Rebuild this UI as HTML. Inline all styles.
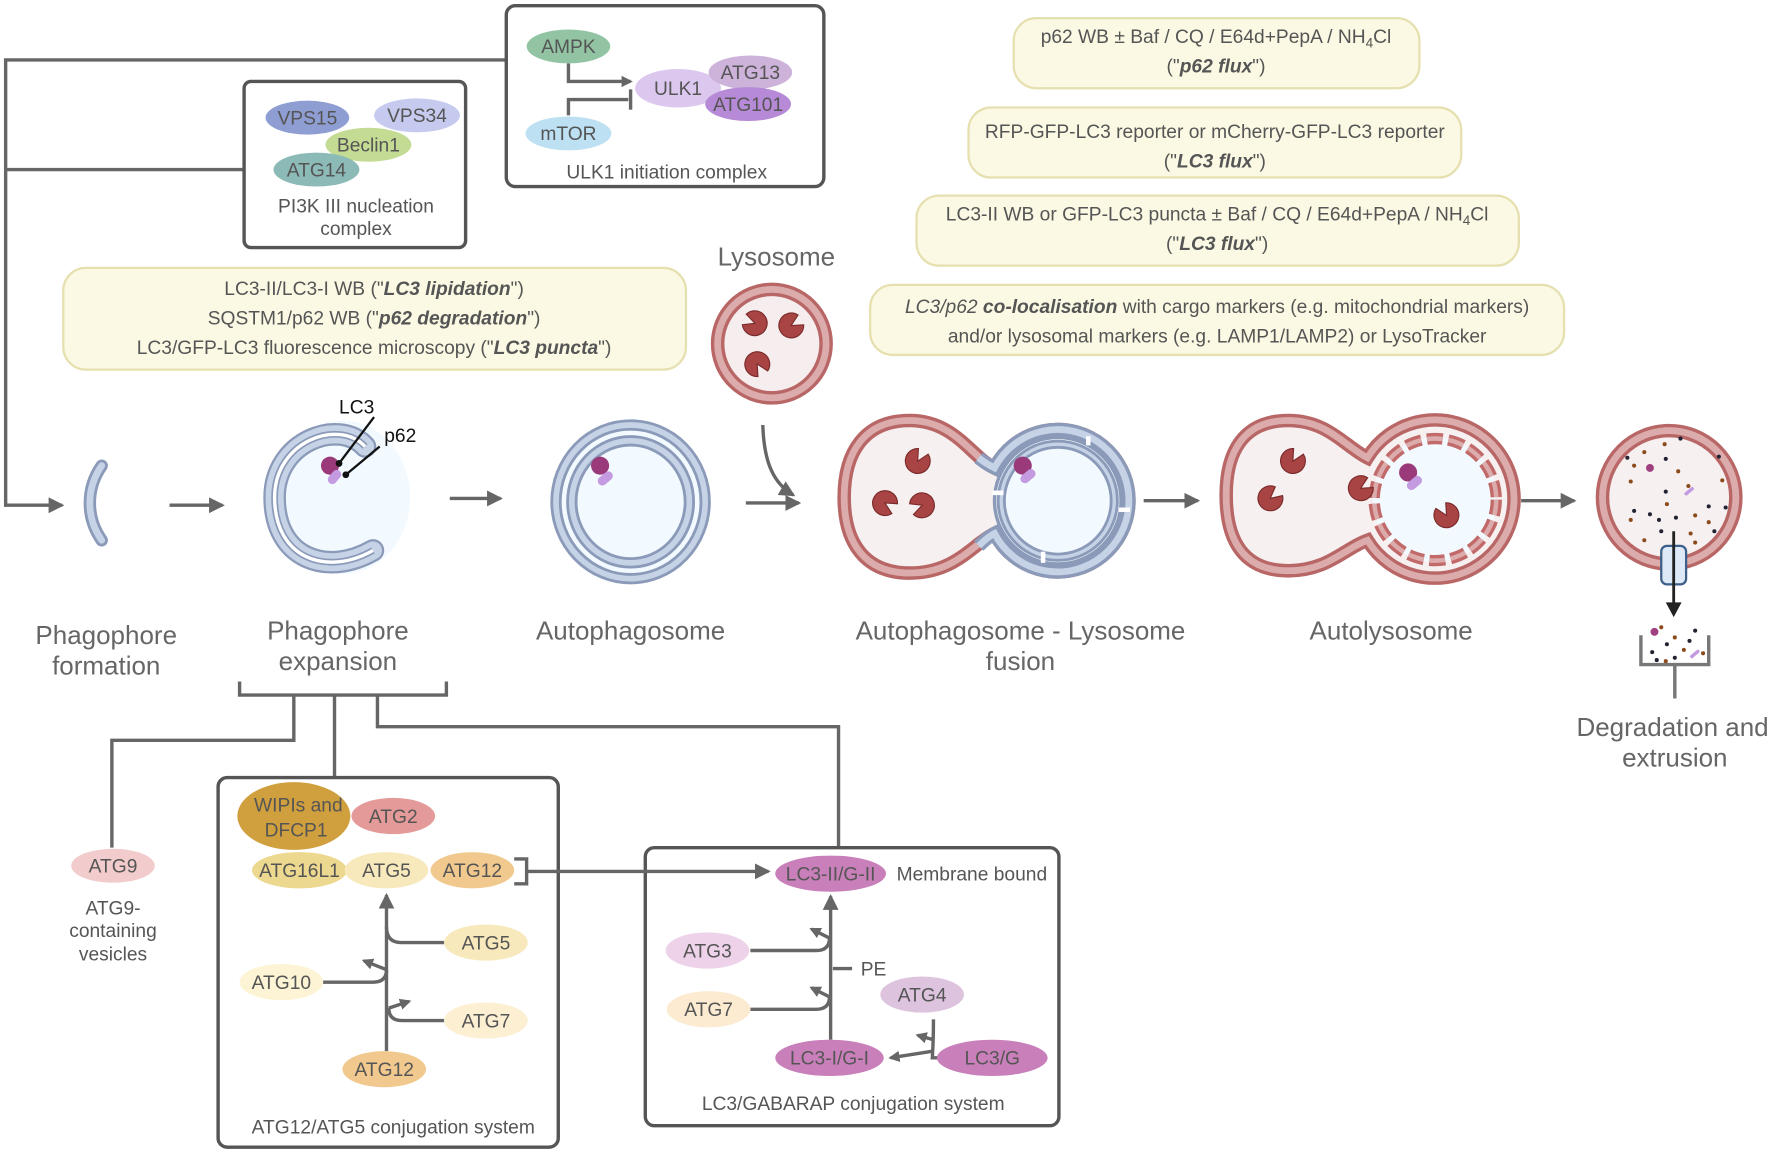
<!DOCTYPE html>
<html><head><meta charset="utf-8"><style>
html,body{margin:0;padding:0;background:#fff;}
svg{display:block;}
text{font-family:"Liberation Sans",sans-serif;fill:#555;}
.s{font-size:17px;text-anchor:middle;}
.b{font-size:23px;text-anchor:middle;fill:#666;}
.ln{stroke:#666;stroke-width:3;fill:none;}
.fr{stroke:#555;stroke-width:3;fill:#fff;}
.yb{fill:#fbf9e3;stroke:#e6e0b0;stroke-width:2;}
</style></head><body>
<svg width="1772" height="1154" viewBox="0 0 1568 1021" xmlns="http://www.w3.org/2000/svg">
<defs>
<marker id="ah" markerWidth="10" markerHeight="10" refX="8" refY="5" orient="auto" markerUnits="userSpaceOnUse"><path d="M0,0 L10,5 L0,10 Z" fill="#666"/></marker>
<marker id="ahs" markerWidth="14" markerHeight="14" refX="12" refY="7" orient="auto" markerUnits="userSpaceOnUse"><path d="M0,0 L14,7 L0,14 Z" fill="#666"/></marker>
<path id="pac" d="M0,0 L10,-5 A11 11 0 1 0 10,5 Z" fill="#a84444" stroke="#7a2a2a" stroke-width="1"/>
</defs>

<path class="ln" d="M448,53 H5 V447 H55" marker-end="url(#ahs)"/>
<path class="ln" d="M216,150 H5"/>

<rect class="fr" x="448" y="5" width="281" height="160" rx="8"/>
<path class="ln" d="M503,56 V72 H558" marker-end="url(#ah)"/>
<path class="ln" d="M503,102 V88 H556"/><path class="ln" d="M558,79 V97"/>
<ellipse cx="503" cy="41" rx="37" ry="15" fill="#92c4a4"/><text class="s" x="503" y="47">AMPK</text>
<ellipse cx="503" cy="118" rx="38" ry="15" fill="#bde0f2"/><text class="s" x="503" y="124">mTOR</text>
<ellipse cx="600" cy="78" rx="38" ry="17" fill="#dcc8ef"/><text class="s" x="600" y="84">ULK1</text>
<ellipse cx="664" cy="64" rx="37" ry="15" fill="#cdb3da"/><text class="s" x="664" y="70">ATG13</text>
<ellipse cx="662" cy="92" rx="38" ry="15" fill="#b68ad6"/><text class="s" x="662" y="98">ATG101</text>
<text class="s" x="590" y="158">ULK1 initiation complex</text>

<rect class="fr" x="216" y="72" width="196" height="147" rx="6"/>
<ellipse cx="369" cy="102" rx="38" ry="15" fill="#c6caee"/><text class="s" x="369" y="108">VPS34</text>
<ellipse cx="272" cy="104" rx="37" ry="15" fill="#8e9dd2"/><text class="s" x="272" y="110">VPS15</text>
<ellipse cx="326" cy="128" rx="38" ry="15" fill="#c4db94"/><text class="s" x="326" y="134">Beclin1</text>
<ellipse cx="280" cy="150" rx="38" ry="15" fill="#8cbab6"/><text class="s" x="280" y="156">ATG14</text>
<text class="s" x="315" y="188">PI3K III nucleation</text>
<text class="s" x="315" y="208">complex</text>

<rect class="yb" x="56" y="237" width="551" height="90" rx="20"/>
<text class="s" x="331" y="261">LC3-II/LC3-I WB ("<tspan font-weight="bold" font-style="italic">LC3 lipidation</tspan>")</text>
<text class="s" x="331" y="287">SQSTM1/p62 WB ("<tspan font-weight="bold" font-style="italic">p62 degradation</tspan>")</text>
<text class="s" x="331" y="313">LC3/GFP-LC3 fluorescence microscopy ("<tspan font-weight="bold" font-style="italic">LC3 puncta</tspan>")</text>

<rect class="yb" x="897" y="16" width="359" height="62" rx="20"/>
<text class="s" x="1076" y="38">p62 WB  ± Baf / CQ / E64d+PepA / NH<tspan font-size="12" dy="4">4</tspan><tspan dy="-4">Cl</tspan></text>
<text class="s" x="1076" y="64">("<tspan font-weight="bold" font-style="italic">p62 flux</tspan>")</text>
<rect class="yb" x="857" y="95" width="436" height="62" rx="20"/>
<text class="s" x="1075" y="122">RFP-GFP-LC3 reporter or mCherry-GFP-LC3 reporter</text>
<text class="s" x="1075" y="148">("<tspan font-weight="bold" font-style="italic">LC3 flux</tspan>")</text>
<rect class="yb" x="811" y="173" width="533" height="62" rx="20"/>
<text class="s" x="1077" y="195">LC3-II WB or GFP-LC3 puncta ± Baf / CQ / E64d+PepA / NH<tspan font-size="12" dy="4">4</tspan><tspan dy="-4">Cl</tspan></text>
<text class="s" x="1077" y="221">("<tspan font-weight="bold" font-style="italic">LC3 flux</tspan>")</text>
<rect class="yb" x="770" y="252" width="614" height="62" rx="20"/>
<text class="s" x="1077" y="277"><tspan font-style="italic">LC3/p62 <tspan font-weight="bold">co-localisation</tspan></tspan> with cargo markers (e.g. mitochondrial markers)</text>
<text class="s" x="1077" y="303">and/or lysosomal markers (e.g. LAMP1/LAMP2) or LysoTracker</text>

<text class="b" x="687" y="235">Lysosome</text>
<circle cx="683" cy="304" r="48" fill="#f6eeee" stroke="#b86666" stroke-width="12"/>
<circle cx="683" cy="304" r="48" fill="none" stroke="#dcacac" stroke-width="6"/>
<use href="#pac" transform="translate(668,286) rotate(200)"/>
<use href="#pac" transform="translate(700,288) rotate(-30)"/>
<use href="#pac" transform="translate(670,322) rotate(60)"/>
<path class="ln" d="M675,376 C676,410 685,428 702,438" marker-end="url(#ahs)"/>

<path class="ln" d="M150,447 H197" marker-end="url(#ahs)"/>
<path class="ln" d="M398,441 H443" marker-end="url(#ahs)"/>
<path class="ln" d="M660,445 H707" marker-end="url(#ahs)"/>
<path class="ln" d="M1012,443 H1060" marker-end="url(#ahs)"/>
<path class="ln" d="M1346,443 H1393" marker-end="url(#ahs)"/>

<path d="M90,412 C76,432 76,458 90,478" fill="none" stroke="#8a9ab8" stroke-width="11" stroke-linecap="round"/>
<path d="M90,412 C76,432 76,458 90,478" fill="none" stroke="#c6d2e6" stroke-width="6" stroke-linecap="round"/>

<ellipse cx="303" cy="440" rx="60" ry="68" fill="#f2faff"/>
<path d="M323,395 C300,370 243,390 243,440 C243,495 290,510 330,487" fill="none" stroke="#8a9ab8" stroke-width="20" stroke-linecap="round"/>
<path d="M323,395 C300,370 243,390 243,440 C243,495 290,510 330,487" fill="none" stroke="#c6d2e6" stroke-width="16" stroke-linecap="round"/>
<path d="M323,395 C300,370 243,390 243,440 C243,495 290,510 330,487" fill="none" stroke="#8a9ab8" stroke-width="6"/>
<path d="M323,395 C300,370 243,390 243,440 C243,495 290,510 330,487" fill="none" stroke="#fff" stroke-width="3"/>
<circle cx="292" cy="412" r="8" fill="#9a3a7a"/>
<rect x="292" y="415" width="8" height="14" rx="4" fill="#c49ae0" transform="rotate(40 296 422)"/>
<path d="M331,369 L300,410" stroke="#111" stroke-width="2"/><circle cx="300" cy="410" r="3" fill="#111"/>
<path d="M336,395 L306,420" stroke="#111" stroke-width="2"/><circle cx="306" cy="420" r="3" fill="#111"/>
<text x="300" y="366" font-size="17" style="fill:#111">LC3</text>
<text x="340" y="391" font-size="17" style="fill:#111">p62</text>

<ellipse cx="558" cy="444" rx="66" ry="68" fill="#f2faff" stroke="#8a9ab8" stroke-width="10"/>
<ellipse cx="558" cy="444" rx="66" ry="68" fill="none" stroke="#c6d2e6" stroke-width="5"/>
<ellipse cx="558" cy="444" rx="52" ry="54" fill="none" stroke="#8a9ab8" stroke-width="10"/>
<ellipse cx="558" cy="444" rx="52" ry="54" fill="none" stroke="#c6d2e6" stroke-width="5"/>
<circle cx="531" cy="412" r="8" fill="#9a3a7a"/>
<rect x="532" y="416" width="8" height="15" rx="4" fill="#c49ae0" transform="rotate(50 536 423)"/>

<path d="M880,414 C860,405 845,372 805,372 C765,372 747,400 747,440 C747,480 765,507 805,507 C845,507 860,482 880,472 A63 63 0 1 0 880,414 Z" fill="#f6f0f0" stroke="#b86666" stroke-width="12"/>
<path d="M880,414 C860,405 845,372 805,372 C765,372 747,400 747,440 C747,480 765,507 805,507 C845,507 860,482 880,472 A63 63 0 1 0 880,414 Z" fill="none" stroke="#dcacac" stroke-width="6"/>
<path d="M866,405 C872,410 876,412 880,414 A63 63 0 1 1 880,472 C876,474 872,477 866,483" fill="none" stroke="#8a9ab8" stroke-width="12"/>
<path d="M866,405 C872,410 876,412 880,414 A63 63 0 1 1 880,472 C876,474 872,477 866,483" fill="none" stroke="#c6d2e6" stroke-width="6"/>
<circle cx="936" cy="443" r="56" fill="#f2faff" stroke="#8a9ab8" stroke-width="3"/>
<circle cx="936" cy="443" r="50" fill="none" stroke="#8a9ab8" stroke-width="8"/>
<circle cx="936" cy="443" r="50" fill="none" stroke="#c6d2e6" stroke-width="3"/>
<path d="M878,436 h10 M963,386 v8 M990,451 h10 M923,488 v10" stroke="#fff" stroke-width="4"/>
<circle cx="905" cy="412" r="8" fill="#9a3a7a"/>
<rect x="906" y="414" width="8" height="15" rx="4" fill="#c49ae0" transform="rotate(50 910 421)"/>
<use href="#pac" transform="translate(812,408) rotate(-60)"/>
<use href="#pac" transform="translate(783,445) rotate(30)"/>
<use href="#pac" transform="translate(816,447) rotate(160)"/>

<path d="M1210,405 C1190,395 1175,372 1140,372 C1100,372 1085,400 1085,438 C1085,478 1100,505 1140,505 C1175,505 1190,485 1210,478 A70 70 0 1 0 1210,405 Z" fill="#f6f0f0" stroke="#b86666" stroke-width="12"/>
<path d="M1210,405 C1190,395 1175,372 1140,372 C1100,372 1085,400 1085,438 C1085,478 1100,505 1140,505 C1175,505 1190,485 1210,478 A70 70 0 1 0 1210,405 Z" fill="none" stroke="#dcacac" stroke-width="6"/>
<circle cx="1270" cy="442" r="55" fill="#f2faff"/>
<circle cx="1270" cy="442" r="54" fill="none" stroke="#c26a6a" stroke-width="10" stroke-dasharray="14 5"/>
<circle cx="1270" cy="442" r="54" fill="none" stroke="#dcacac" stroke-width="4" stroke-dasharray="14 5"/>
<circle cx="1246" cy="418" r="8" fill="#9a3a7a"/>
<rect x="1248" y="420" width="8" height="15" rx="4" fill="#c49ae0" transform="rotate(50 1252 427)"/>
<use href="#pac" transform="translate(1144,408) rotate(-60)"/>
<use href="#pac" transform="translate(1124,441) rotate(-40)"/>
<use href="#pac" transform="translate(1204,432) rotate(-30)"/>
<use href="#pac" transform="translate(1280,456) rotate(-120)"/>

<circle cx="1477" cy="440" r="59" fill="#f6f0f0" stroke="#b86666" stroke-width="12"/>
<circle cx="1477" cy="440" r="59" fill="none" stroke="#dcacac" stroke-width="6"/>
<g fill="#8a4a1a">
<circle cx="1455" cy="400" r="1.8"/><circle cx="1473" cy="393" r="1.8"/><circle cx="1485" cy="417" r="1.8"/><circle cx="1443" cy="426" r="1.8"/><circle cx="1494" cy="430" r="1.8"/><circle cx="1524" cy="425" r="1.8"/><circle cx="1443" cy="460" r="1.8"/><circle cx="1475" cy="446" r="1.8"/><circle cx="1500" cy="456" r="1.8"/><circle cx="1512" cy="462" r="1.8"/><circle cx="1455" cy="478" r="1.8"/><circle cx="1496" cy="472" r="1.8"/><circle cx="1446" cy="412" r="1.8"/><circle cx="1500" cy="480" r="1.8"/>
</g>
<g fill="#223">
<circle cx="1487" cy="388" r="1.8"/><circle cx="1440" cy="405" r="1.8"/><circle cx="1474" cy="406" r="1.8"/><circle cx="1474" cy="435" r="1.8"/><circle cx="1446" cy="452" r="1.8"/><circle cx="1460" cy="455" r="1.8"/><circle cx="1468" cy="460" r="1.8"/><circle cx="1512" cy="448" r="1.8"/><circle cx="1527" cy="449" r="1.8"/><circle cx="1521" cy="404" r="1.8"/><circle cx="1470" cy="470" r="1.8"/><circle cx="1517" cy="470" r="1.8"/><circle cx="1483" cy="458" r="1.8"/>
</g>
<circle cx="1460" cy="414" r="3.5" fill="#a04080"/>
<rect x="1493" y="430" width="3" height="10" rx="1.5" fill="#c49ae0" transform="rotate(50 1495 435)"/>
<rect x="1470" y="483" width="22" height="34" rx="5" fill="#dde9f6" stroke="#3d5f8a" stroke-width="2"/>
<path d="M1481,470 V535" stroke="#222" stroke-width="2.5"/>
<path d="M1474,533 L1488,533 L1481,546 Z" fill="#222"/>
<path d="M1452,562 V588 H1512 V562 M1482,588 V618" stroke="#777" stroke-width="3" fill="none"/>
<g fill="#223"><circle cx="1462" cy="577" r="1.8"/><circle cx="1475" cy="570" r="1.8"/><circle cx="1495" cy="567" r="1.8"/><circle cx="1500" cy="558" r="1.8"/><circle cx="1482" cy="582" r="1.8"/><circle cx="1466" cy="584" r="1.8"/></g>
<g fill="#8a4a1a"><circle cx="1482" cy="564" r="1.8"/><circle cx="1490" cy="575" r="1.8"/><circle cx="1474" cy="585" r="1.8"/><circle cx="1507" cy="578" r="1.8"/><circle cx="1470" cy="555" r="1.8"/></g>
<circle cx="1464" cy="559" r="3.5" fill="#a04080"/>
<rect x="1498" y="574" width="3" height="10" rx="1.5" fill="#c49ae0" transform="rotate(50 1500 579)"/>

<text class="b" x="94" y="570">Phagophore</text><text class="b" x="94" y="597">formation</text>
<text class="b" x="299" y="566">Phagophore</text><text class="b" x="299" y="593">expansion</text>
<text class="b" x="558" y="566">Autophagosome</text>
<text class="b" x="903" y="566">Autophagosome - Lysosome</text><text class="b" x="903" y="593">fusion</text>
<text class="b" x="1231" y="566">Autolysosome</text>
<text class="b" x="1480" y="651">Degradation and</text><text class="b" x="1482" y="678">extrusion</text>

<path class="ln" d="M212,603 V615 H395 V603"/>
<path class="ln" d="M260,615 V655 H99 V750"/>
<path class="ln" d="M296,615 V688"/>
<path class="ln" d="M334,615 V643 H742 V750"/>
<ellipse cx="100" cy="766" rx="37" ry="15" fill="#f2cccc"/><text class="s" x="100" y="772">ATG9</text>
<text class="s" x="100" y="809">ATG9-</text><text class="s" x="100" y="829">containing</text><text class="s" x="100" y="850">vesicles</text>

<rect class="fr" x="193" y="688" width="301" height="327" rx="8"/>
<path class="ln" d="M342,930 V792" marker-end="url(#ahs)"/>
<path class="ln" d="M393,834 H355 Q342,834 342,820"/>
<path class="ln" d="M283,869 H330 Q342,869 342,858"/><path class="ln" d="M342,858 L322,850" marker-end="url(#ah)"/>
<path class="ln" d="M393,903 H356 Q344,903 344,892"/><path class="ln" d="M344,892 L362,886" marker-end="url(#ah)"/>
<ellipse cx="260" cy="722" rx="50" ry="30" fill="#d1a03e"/><text class="s" x="264" y="718">WIPIs and</text><text class="s" x="262" y="740">DFCP1</text>
<ellipse cx="348" cy="722" rx="37" ry="16" fill="#e39a98"/><text class="s" x="348" y="728">ATG2</text>
<ellipse cx="265" cy="770" rx="42" ry="16" fill="#ecd88e"/><text class="s" x="265" y="776">ATG16L1</text>
<ellipse cx="342" cy="770" rx="37" ry="16" fill="#f8e9bc"/><text class="s" x="342" y="776">ATG5</text>
<ellipse cx="418" cy="770" rx="37" ry="16" fill="#f1c98e"/><text class="s" x="418" y="776">ATG12</text>
<ellipse cx="430" cy="834" rx="37" ry="16" fill="#f8e9bc"/><text class="s" x="430" y="840">ATG5</text>
<ellipse cx="249" cy="869" rx="37" ry="16" fill="#fcf4d4"/><text class="s" x="249" y="875">ATG10</text>
<ellipse cx="430" cy="903" rx="37" ry="16" fill="#fcefd2"/><text class="s" x="430" y="909">ATG7</text>
<ellipse cx="340" cy="946" rx="37" ry="16" fill="#f1c98e"/><text class="s" x="340" y="952">ATG12</text>
<text class="s" x="348" y="1003">ATG12/ATG5 conjugation system</text>
<path class="ln" d="M455,760 H466 V782 H455"/>

<rect class="fr" x="571" y="750" width="366" height="246" rx="8"/>
<path class="ln" d="M466,771 H680" marker-end="url(#ahs)"/>
<path class="ln" d="M735,920 V793" marker-end="url(#ahs)"/>
<path class="ln" d="M664,841 H722 Q734,841 734,830"/><path class="ln" d="M734,830 L718,822" marker-end="url(#ah)"/>
<path class="ln" d="M664,893 H722 Q734,893 734,882"/><path class="ln" d="M734,882 L718,874" marker-end="url(#ah)"/>
<path class="ln" d="M754,857 H737"/>
<text class="s" x="773" y="863">PE</text>
<path class="ln" d="M840,936 H825 Q826,920 826,902"/>
<path class="ln" d="M826,920 L812,916" marker-end="url(#ah)"/>
<path class="ln" d="M826,930 L788,936" marker-end="url(#ah)"/>
<ellipse cx="735" cy="773" rx="49" ry="16" fill="#c97fb9"/><text class="s" x="735" y="779">LC3-II/G-II</text>
<text class="s" x="860" y="779">Membrane bound</text>
<ellipse cx="626" cy="841" rx="37" ry="16" fill="#edd2ea"/><text class="s" x="626" y="847">ATG3</text>
<ellipse cx="627" cy="893" rx="37" ry="16" fill="#fcebd0"/><text class="s" x="627" y="899">ATG7</text>
<ellipse cx="816" cy="880" rx="37" ry="16" fill="#ddc3de"/><text class="s" x="816" y="886">ATG4</text>
<ellipse cx="734" cy="936" rx="48" ry="16" fill="#c97fb9"/><text class="s" x="734" y="942">LC3-I/G-I</text>
<ellipse cx="878" cy="936" rx="49" ry="16" fill="#c97fb9"/><text class="s" x="878" y="942">LC3/G</text>
<text class="s" x="755" y="982">LC3/GABARAP  conjugation system</text>
</svg>
</body></html>
